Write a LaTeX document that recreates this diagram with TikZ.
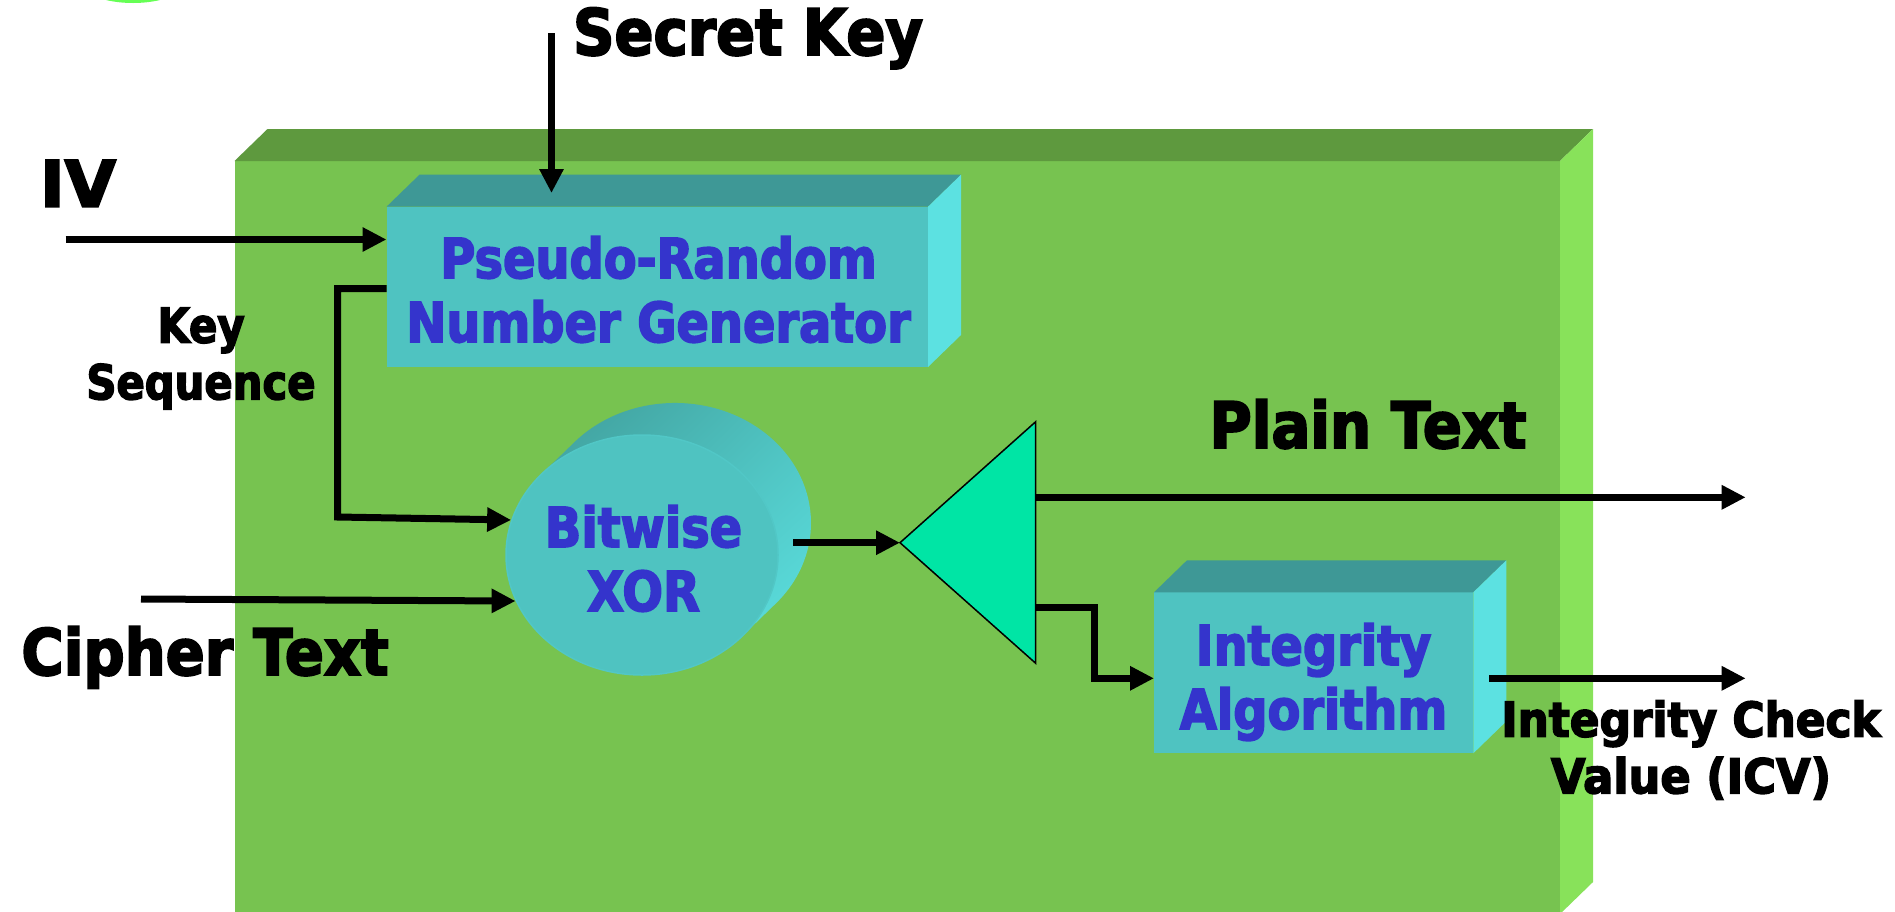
\documentclass[tikz,border=0pt]{standalone}
\usepackage{fontspec}
\usepackage{graphicx}
\usetikzlibrary{arrows.meta,shapes.geometric,calc,shadings}
\newfontfamily\lblfont[FakeStretch=0.87,FakeBold=3]{DejaVu Sans}
\newfontfamily\bigfont[FakeStretch=0.9,FakeBold=3]{DejaVu Sans}
\definecolor{gfront}{HTML}{77C350}
\definecolor{gtop}{HTML}{5E993E}
\definecolor{gside}{HTML}{88E25A}
\definecolor{cfront}{HTML}{4FC3C1}
\definecolor{ctop}{HTML}{3E9896}
\definecolor{cside}{HTML}{5CE1E1}
\definecolor{cdark}{HTML}{3E9A97}
\definecolor{btext}{HTML}{3434CC}
\definecolor{mint}{HTML}{00E5A5}
\definecolor{blob}{HTML}{66FF55}
\tikzset{
  flow/.style={line width=7pt,-{Triangle[length=24pt,width=23pt]}},
  bigtxt/.style={font=\bigfont\bfseries\fontsize{64}{64}\selectfont,inner sep=0pt,anchor=base},
  midtxt/.style={font=\lblfont\bfseries\fontsize{48}{56.6}\selectfont,inner sep=0pt,anchor=base},
  bluetxt/.style={font=\lblfont\bfseries\fontsize{55}{64}\selectfont,text=btext,inner sep=0pt,anchor=base},
  face/.style={inner sep=0pt,outer sep=0pt,anchor=north west,draw=none},
}
\newcommand\mycuboid[8]{%
  \node[face,fill=#6,minimum width=#4pt,minimum height=#5pt] (#1) at (#2,#3) {};
  \fill[#7] (#1.north west) -- ++(33,-32) -- ($(#1.north east)+(33,-32)$) -- (#1.north east) -- cycle;
  \fill[#8] (#1.north east) -- ++(33,-32) -- ($(#1.south east)+(33,-32)$) -- (#1.south east) -- cycle;
}
\begin{document}
\begin{tikzpicture}[x=1pt,y=-1pt]
\useasboundingbox (0,0) rectangle (1895,911);
\clip (0,0) rectangle (1895,911);
\fill[white] (0,0) rectangle (1895,911);
% partial blob at the top
\fill[blob] (133,-27) ellipse [x radius=62, y radius=30];
% main green block
\mycuboid{frame}{234.5}{161}{1325.5}{753}{gfront}{gtop}{gside}
% PRNG block
\mycuboid{prng}{386.5}{206.7}{541.5}{160.3}{cfront}{ctop}{cside}
% Integrity block
\mycuboid{integ}{1154}{592.3}{319.3}{161}{cfront}{ctop}{cside}
% XOR cylinder
\shade[upper left=cdark,upper right=cfront,lower left=cfront,lower right=cside]
  (540,475.6) -- (573,443.6) arc[start angle=-138.6,end angle=41.4,x radius=136,y radius=120]
  -- (744,634.4) -- cycle;
\node[ellipse,fill=cfront,draw=cfront!85!cside,line width=1.5pt,minimum width=272pt,minimum height=240pt,inner sep=0pt] (xor) at (642,555) {};
% triangle
\coordinate (trL) at (900,542.7);
\coordinate (trT) at (1035.7,421.7);
\coordinate (trB) at (1035.7,663.3);
\filldraw[fill=mint,draw=black,line width=1.5pt] (trL) -- (trT) -- (trB) -- cycle;
% connectors
\coordinate (ivS) at (65.7,239.5);
\draw[flow] (ivS) -- (ivS -| prng.west);
\coordinate (skS) at (551.5,33);
\coordinate (skE) at (551.5,193);
\draw[flow] (skS) -- (skE);
\coordinate (ksS) at ($(prng.north west)+(0,81.8)$);
\coordinate (ksC) at (337.5,517);
\draw[flow] (ksS) -| (ksC) -- (xor.165);
\coordinate (ctS) at (141,599);
\draw[flow] (ctS) -- (xor.200);
\coordinate (xoS) at (793,542.7);
\draw[flow] (xoS) -- (trL);
\coordinate (trR1) at (1035.7,497.3);
\coordinate (ptE) at (1745.7,497.3);
\draw[flow] (trR1) -- (ptE);
\coordinate (trR2) at (1035.7,607.3);
\draw[flow] (trR2) -- ++(59,0) |- ($(integ.west)+(0,5.5)$);
\coordinate (icvE) at (1745.7,678.3);
\draw[flow] ($(integ.east)+(16,5.5)$) -- (icvE);
% labels
\node[bigtxt] (sk) at (748,55) {Secret Key};
\node[bigtxt] (iv) at (78,206.7) {\scalebox{1.15}[1]{IV}};
\node[midtxt] (ks) at (201,342.7) {\begin{tabular}[t]{@{}c@{}}Key\\Sequence\end{tabular}};
\node[bigtxt] (ct) at (205,675) {Cipher Text};
\node[bigtxt] (pt) at (1368,448) {Plain Text};
\node[midtxt] (icv) at (1691,736.7) {\begin{tabular}[t]{@{}c@{}}\scalebox{1.05}[1]{Integrity Check}\\\scalebox{1.07}[1]{Value (ICV)}\end{tabular}};
\node[bluetxt] (prngT) at (658.5,278) {\begin{tabular}[t]{@{}c@{}}Pseudo-Random\\Number Generator\end{tabular}};
\node[bluetxt] (xorT) at (643.5,547) {\begin{tabular}[t]{@{}c@{}}Bitwise\\XOR\end{tabular}};
\node[bluetxt] (intT) at (1313.5,665) {\begin{tabular}[t]{@{}c@{}}Integrity\\Algorithm\end{tabular}};
\end{tikzpicture}
\end{document}
